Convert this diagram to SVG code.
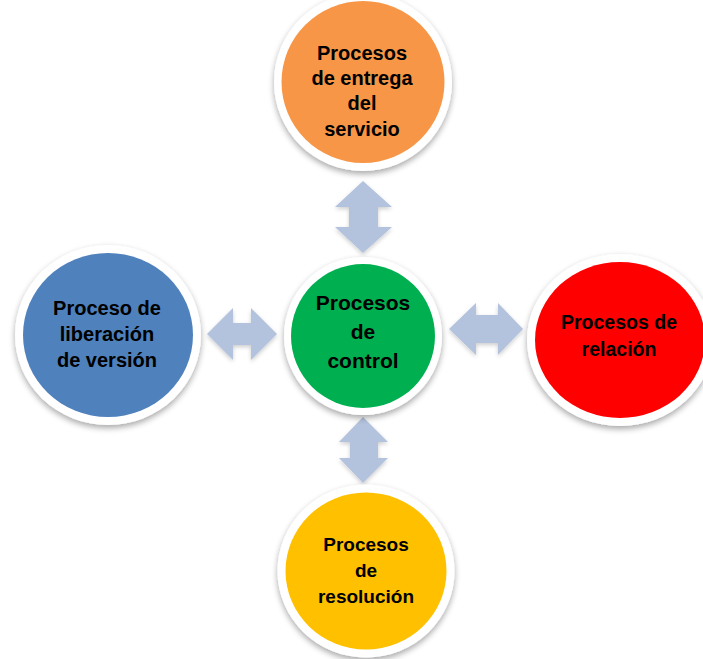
<svg xmlns="http://www.w3.org/2000/svg" width="703" height="659" viewBox="0 0 703 659">
  <defs>
    <filter id="sh" x="-20%" y="-20%" width="140%" height="145%">
      <feGaussianBlur in="SourceAlpha" stdDeviation="3"/>
      <feOffset dx="0" dy="3" result="b"/>
      <feComponentTransfer><feFuncA type="linear" slope="0.35"/></feComponentTransfer>
      <feMerge><feMergeNode/><feMergeNode in="SourceGraphic"/></feMerge>
    </filter>
    <filter id="ash" x="-20%" y="-20%" width="140%" height="140%">
      <feGaussianBlur in="SourceAlpha" stdDeviation="2"/>
      <feOffset dx="0" dy="2" result="b"/>
      <feComponentTransfer><feFuncA type="linear" slope="0.2"/></feComponentTransfer>
      <feMerge><feMergeNode/><feMergeNode in="SourceGraphic"/></feMerge>
    </filter>
  </defs>
  <style>
    .ring { fill: #ffffff; filter: url(#sh); }
    .arrow { fill: #B3C2DD; filter: url(#ash); }
    text { font-family: "Liberation Sans", Arial, sans-serif; font-weight: bold; fill: #000000; text-anchor: middle; }
  </style>
  <rect width="703" height="659" fill="#ffffff"/>
  <g id="connectors">
    <polygon class="arrow" points="363,181 392,207 378,207 378,227 392,227 363,253 335,227 349,227 349,207 335,207"/>
    <polygon class="arrow" points="363,417 388,442 378,442 378,458 388,458 363,483 339,458 350,458 350,442 339,442"/>
    <polygon class="arrow" points="207,334 233,308 233,323 251,323 251,308 277,334 251,360 251,345 233,345 233,360"/>
    <polygon class="arrow" points="449,329 476,303 476,315 498,315 498,303 523,329 498,355 498,343 476,343 476,355"/>
  </g>
  <g id="node-entrega">
    <ellipse class="ring" cx="363" cy="82" rx="89" ry="89"/>
    <ellipse cx="363" cy="82" rx="81.5" ry="81" fill="#F79646"/>
    <text font-size="20"><tspan x="362" y="60">Procesos</tspan><tspan x="362" y="85">de entrega</tspan><tspan x="362" y="110">del</tspan><tspan x="362" y="136">servicio</tspan></text>
  </g>
  <g id="node-control">
    <circle class="ring" cx="363" cy="336" r="79"/>
    <circle cx="363" cy="336" r="72" fill="#00B050"/>
    <text font-size="21"><tspan x="363" y="310">Procesos</tspan><tspan x="363" y="339">de</tspan><tspan x="363" y="368">control</tspan></text>
  </g>
  <g id="node-liberacion">
    <ellipse class="ring" cx="108" cy="335" rx="93" ry="90"/>
    <ellipse cx="108" cy="335" rx="85" ry="82" fill="#4F81BD"/>
    <text font-size="20"><tspan x="107" y="315">Proceso de</tspan><tspan x="107" y="341">liberación</tspan><tspan x="107" y="367">de versión</tspan></text>
  </g>
  <g id="node-relacion">
    <ellipse class="ring" cx="620" cy="340" rx="93" ry="86"/>
    <ellipse cx="620" cy="340" rx="85" ry="78" fill="#FF0000"/>
    <text font-size="19.5"><tspan x="619" y="329">Procesos de</tspan><tspan x="619" y="356">relación</tspan></text>
  </g>
  <g id="node-resolucion">
    <ellipse class="ring" cx="366" cy="571" rx="88.5" ry="86.5"/>
    <ellipse cx="366" cy="571" rx="80.5" ry="78.5" fill="#FFC000"/>
    <text font-size="19"><tspan x="366" y="551">Procesos</tspan><tspan x="366" y="577">de</tspan><tspan x="366" y="603">resolución</tspan></text>
  </g>
</svg>
